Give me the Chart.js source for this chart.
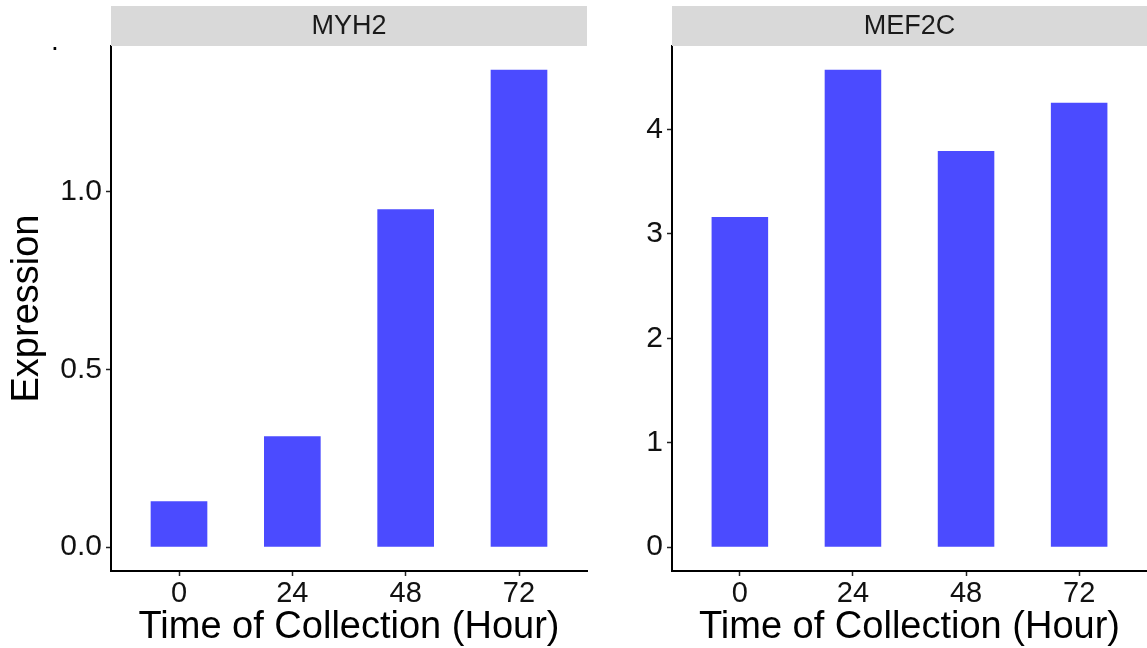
<!DOCTYPE html>
<html>
<head>
<meta charset="utf-8">
<script src="https://cdn.jsdelivr.net/npm/chart.js@4"></script>
<style>
  html, body { margin: 0; padding: 0; background: #ffffff; }
  #wrap { position: relative; width: 1147px; height: 648px; overflow: hidden; }
  canvas { position: absolute; top: 0; }
</style>
</head>
<body>
<div id="wrap">
  <canvas id="panelMYH2" width="600" height="648" style="left:0px"></canvas>
  <canvas id="panelMEF2C" width="547" height="648" style="left:600px"></canvas>
</div>
<script>
// Collection times (hours) shared by both genes
const hours = ['0', '24', '48', '72'];

// Expression per time point
const myh2Values = [0.129, 0.312, 0.951, 1.343];
const mef2cValues = [3.161, 4.570, 3.794, 4.254];

// Y-axis ticks per panel
const myh2Ticks = [0, 0.5, 1.0];
const myh2TickLabels = ['0.0', '0.5', '1.0'];
const mef2cTicks = [0, 1, 2, 3, 4];
const mef2cTickLabels = ['0', '1', '2', '3', '4'];

const FONT = "'Liberation Sans', Arial, Helvetica, sans-serif";
const BAR_COLOR = '#4B4BFF';

// Grey facet strip above the plotting area, with the gene name
const stripPlugin = {
  id: 'facetStrip',
  afterDraw(chart, args, opts) {
    const { ctx, chartArea } = chart;
    ctx.save();
    ctx.fillStyle = '#d9d9d9';
    ctx.fillRect(chartArea.left, 6, chartArea.right - chartArea.left, chartArea.top - 6);
    ctx.fillStyle = '#1a1a1a';
    ctx.font = '27px ' + FONT;
    ctx.textAlign = 'center';
    ctx.textBaseline = 'middle';
    ctx.fillText(opts.label, (chartArea.left + chartArea.right) / 2, (6 + chartArea.top) / 2 + 1);
    if (opts.dot) {
      ctx.fillStyle = '#000';
      ctx.font = '28px ' + FONT;
      ctx.textBaseline = 'alphabetic';
      ctx.fillText('.', 55, 50);
    }
    ctx.restore();
  }
};

function makePanel(canvasId, gene, values, yTicks, yTickLabels, axisWidth, padRight, showYTitle, dot) {
  const maxV = Math.max(...values);
  const expand = maxV * 0.05;
  return new Chart(document.getElementById(canvasId), {
    type: 'bar',
    data: {
      datasets: [{
        data: values.map((v, i) => ({ x: i, y: v })),
        backgroundColor: BAR_COLOR,
        borderWidth: 0,
        categoryPercentage: 0.5,
        barPercentage: 1.0
      }]
    },
    plugins: [stripPlugin],
    options: {
      responsive: false,
      devicePixelRatio: 1,
      animation: false,
      layout: { padding: { top: 46, right: padRight, left: 0, bottom: 0 } },
      plugins: {
        legend: { display: false },
        tooltip: { enabled: false },
        facetStrip: { label: gene, dot: dot }
      },
      scales: {
        x: {
          type: 'linear',
          offset: false,
          min: -0.6,
          max: hours.length - 0.4,
          afterBuildTicks(scale) {
            scale.ticks = hours.map((h, i) => ({ value: i }));
          },
          afterFit(scale) { scale.height = 77; },
          ticks: {
            callback: (v) => hours[v],
            font: { family: FONT, size: 29, lineHeight: 1.0 },
            color: '#111',
            padding: 3,
            maxRotation: 0,
            autoSkip: false
          },
          grid: {
            offset: false,
            drawOnChartArea: false,
            drawTicks: true,
            tickLength: 5,
            tickColor: '#222',
            tickWidth: 1.5
          },
          border: { display: true, color: '#000', width: 2 },
          title: {
            display: true,
            text: 'Time of Collection (Hour)',
            font: { family: FONT, size: 38, lineHeight: 1.1 },
            color: '#000',
            padding: { top: 0, bottom: 0 }
          }
        },
        y: {
          type: 'linear',
          min: -expand,
          max: maxV + expand,
          afterBuildTicks(scale) {
            scale.ticks = yTicks.map(v => ({ value: v }));
          },
          afterFit(scale) { scale.width = axisWidth; },
          ticks: {
            callback: (v) => yTickLabels[yTicks.indexOf(v)],
            font: { family: FONT, size: 30 },
            color: '#111',
            padding: 4
          },
          grid: {
            drawOnChartArea: false,
            drawTicks: true,
            tickLength: 5,
            tickColor: '#222',
            tickWidth: 1.5
          },
          border: { display: true, color: '#000', width: 2 },
          title: {
            display: showYTitle,
            text: 'Expression',
            font: { family: FONT, size: 38, lineHeight: 1.2 },
            color: '#000',
            padding: { top: 5, bottom: 0 }
          }
        }
      }
    }
  });
}

makePanel('panelMYH2', 'MYH2', myh2Values, myh2Ticks, myh2TickLabels, 111, 13, true, true);
makePanel('panelMEF2C', 'MEF2C', mef2cValues, mef2cTicks, mef2cTickLabels, 72, 0, false, false);
</script>
</body>
</html>
